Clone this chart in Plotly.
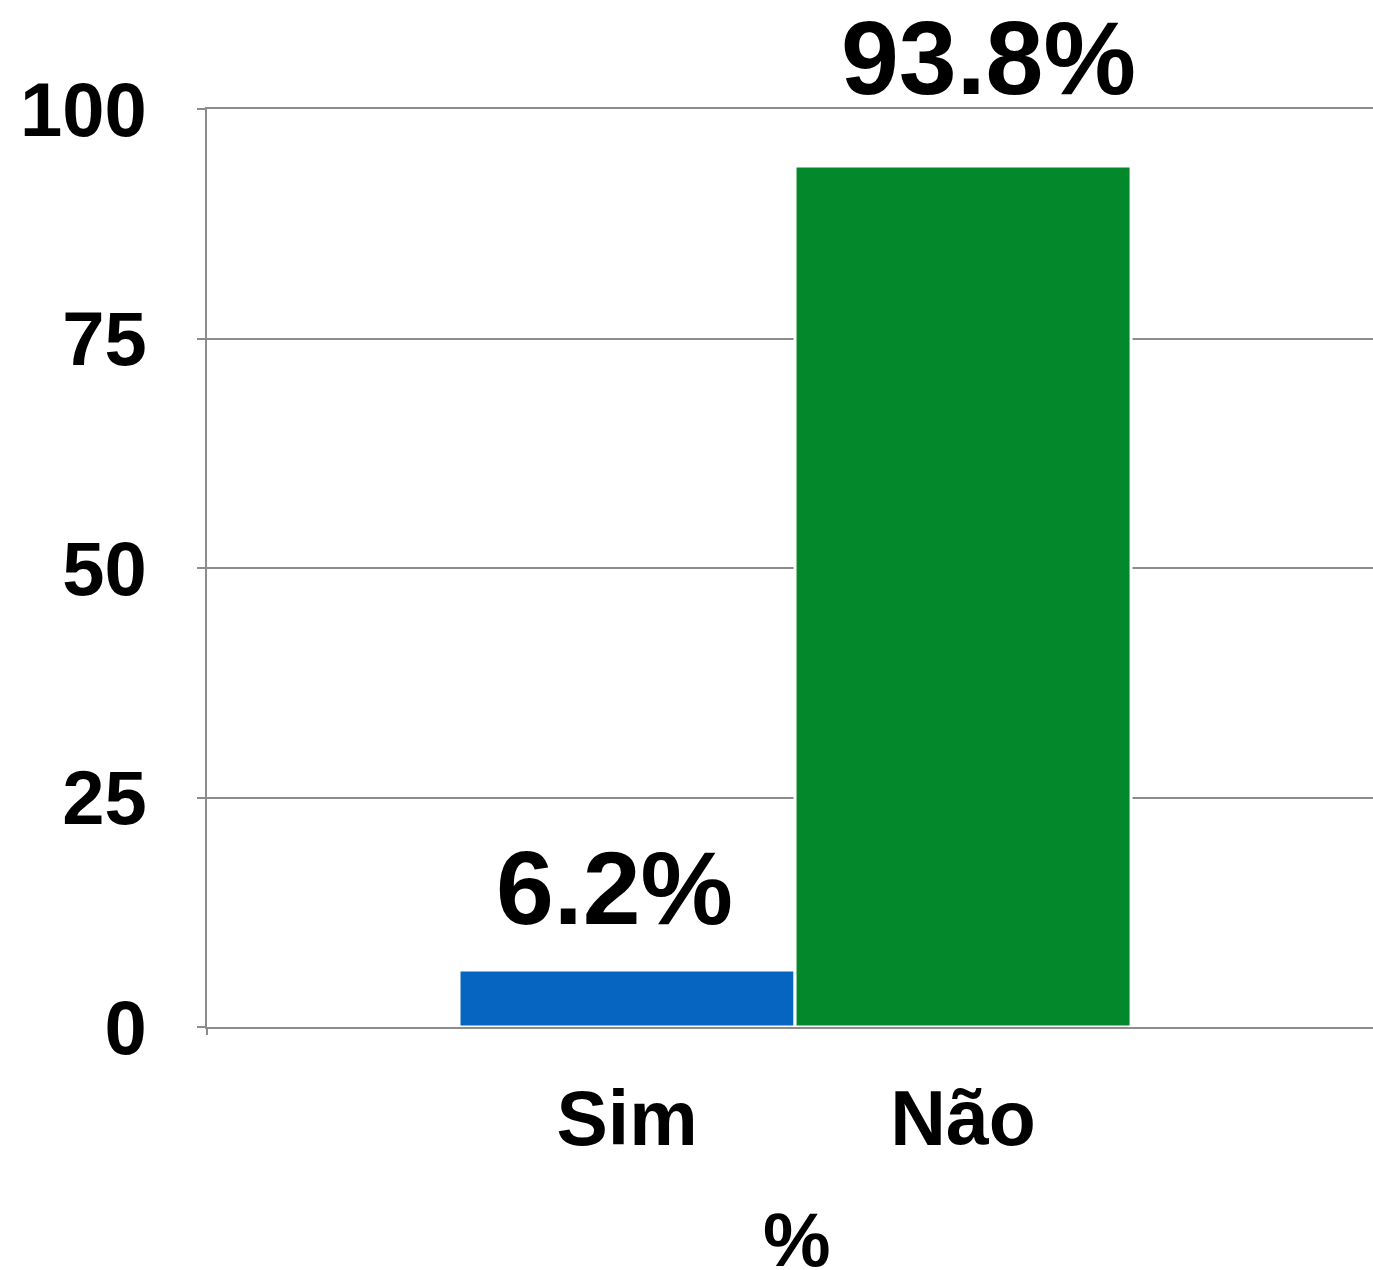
import plotly.graph_objects as go

categories = ["Sim", "Não"]
values = [6.2, 93.8]
value_labels = ["6.2%", "93.8%"]
bar_colors = ["#0565C0", "#03882B"]
y_ticks = [0, 25, 50, 75, 100]
x_title = "%"

GRID = "#8C8C8C"
FONT = "Liberation Sans, Arial, sans-serif"

fig = go.Figure()

fig.add_trace(go.Bar(
    x=categories,
    y=values,
    width=1.0,
    marker=dict(color=bar_colors, line=dict(color="white", width=3)),
    showlegend=False,
    hoverinfo="skip",
))

# value labels above the bars
label_shift = [(-13, 22), (25, 48)]
for cat, val, lab, (dx, dy) in zip(categories, values, value_labels, label_shift):
    fig.add_annotation(
        x=cat, y=val, text=lab, showarrow=False,
        xanchor="center", yanchor="bottom", xshift=dx, yshift=dy,
        font=dict(family=FONT, size=104, color="black", weight="bold"),
    )

# x axis title (standoff is ignored without automargin, so place it by hand)
fig.add_annotation(
    x=0.5, y=0, xref="paper", yref="paper", text=x_title, showarrow=False,
    xanchor="center", yanchor="top", xshift=7, yshift=-168,
    font=dict(family=FONT, size=76, color="black", weight="bold"),
)

# small tick below the origin
fig.add_shape(
    type="line", xref="paper", yref="paper", ysizemode="pixel", yanchor=0,
    x0=0, x1=0, y0=0, y1=-8,
    line=dict(color=GRID, width=2),
)

fig.update_layout(
    width=1373, height=1270,
    margin=dict(l=207, r=0, t=109, b=243),
    plot_bgcolor="white", paper_bgcolor="white",
    font=dict(family=FONT, color="black"),
    xaxis=dict(
        range=[-1.25, 2.22],
        automargin=False,
        showgrid=False,
        showline=True, mirror=True, linecolor=GRID, linewidth=2,
        ticks="",
        tickfont=dict(size=77, weight="bold"),
        ticklabelstandoff=24,
    ),
    yaxis=dict(
        range=[0, 100],
        automargin=False,
        tickvals=y_ticks,
        showgrid=True, gridcolor=GRID, gridwidth=2,
        zeroline=False,
        showline=True, linecolor=GRID, linewidth=2,
        ticks="outside", ticklen=8, tickwidth=2, tickcolor=GRID,
        tickfont=dict(size=76, weight="bold"),
        ticklabelstandoff=35,
    ),
)

# drop the default page margin so the figure fills the window
fig.write_html(
    "out.html",
    config={"displayModeBar": False},
    post_script="document.body.style.margin = '0';",
)
